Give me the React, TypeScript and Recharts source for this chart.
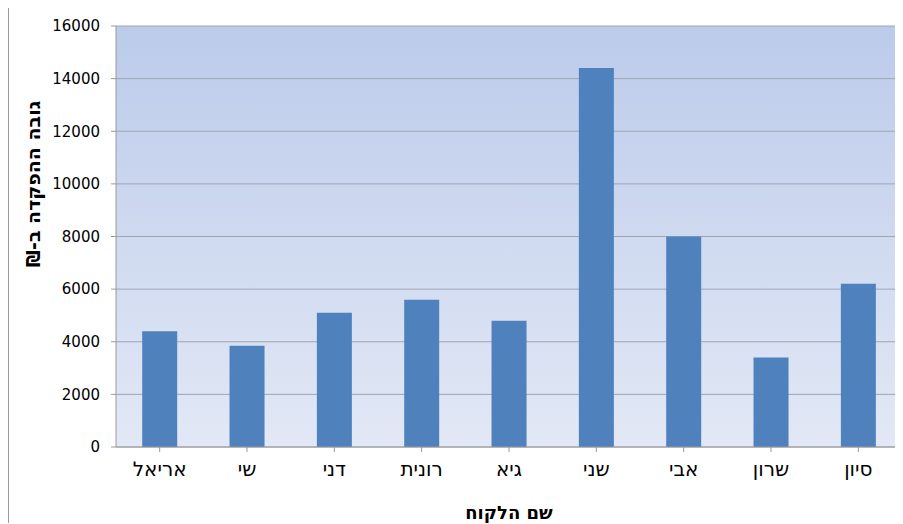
import React from 'react';
import { BarChart, Bar, XAxis, YAxis, CartesianGrid, Label } from 'recharts';

const customers = ['אריאל', 'שי', 'דני', 'רונית', 'גיא', 'שני', 'אבי', 'שרון', 'סיון'];
const deposits = [4400, 3850, 5100, 5600, 4800, 14400, 8000, 3400, 6200];
const yTicks = [0, 2000, 4000, 6000, 8000, 10000, 12000, 14000, 16000];

const data = customers.map((name, i) => ({ name, value: deposits[i] }));

const FONT = '"DejaVu Sans", "Liberation Sans", sans-serif';

const YTitle = () => (
  <text
    x={24}
    y={176}
    transform="rotate(-90 24 176)"
    textAnchor="middle"
    dominantBaseline="central"
    direction="rtl"
    fontFamily={FONT}
    fontWeight="bold"
    fontSize={19}
    fill="#000"
  >
    גובה ההפקדה ב-₪
  </text>
);

export default function App() {
  return (
    <div style={{ width: 895, height: 516, borderLeft: '1px solid #9a9a9a', borderTop: '1px solid #9a9a9a', boxSizing: 'border-box', marginTop: -1 }}>
      <BarChart
        width={894}
        height={516}
        data={data}
        margin={{ top: 18, right: 1, bottom: 0, left: 0 }}
        barCategoryGap="30%"
      >
        <defs>
          <linearGradient id="bg" x1="0" y1="0" x2="0" y2="1">
            <stop offset="0%" stopColor="#bccbeb" />
            <stop offset="100%" stopColor="#e2e8f5" />
          </linearGradient>
        </defs>
        <CartesianGrid vertical={false} stroke="#9ea6b4" fill="url(#bg)" fillOpacity={1} />
        <XAxis
          dataKey="name"
          height={77}
          tickSize={5}
          tickMargin={10}
          stroke="#9a9a9a"
          tick={{ fill: '#000', fontFamily: FONT, fontSize: 20 }}
          interval={0}
        >
          <Label
            value="שם הלקוח"
            position="insideBottom"
            offset={5}
            style={{ fontFamily: FONT, fontWeight: 'bold', fontSize: 18, fill: '#000' }}
          />
        </XAxis>
        <YAxis
          width={107}
          domain={[0, 16000]}
          ticks={yTicks}
          tickSize={5}
          tickMargin={11}
          stroke="#9a9a9a"
          tick={{ fill: '#000', fontFamily: FONT, fontSize: 15 }}
          interval={0}
        >
          <Label content={() => <YTitle />} />
        </YAxis>
        <Bar dataKey="value" fill="#4f81bd" isAnimationActive={false} />
      </BarChart>
    </div>
  );
}
